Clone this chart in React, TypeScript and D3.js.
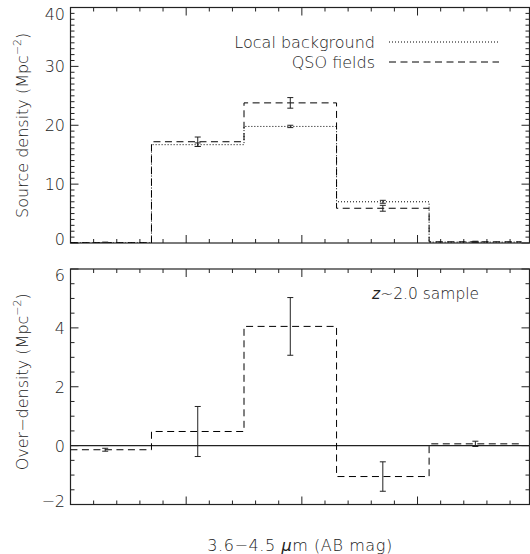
import React from 'react';
import * as d3 from 'd3';

// colour bins (3.6-4.5 micron, AB mag), width 0.4
const binCenters = [-0.35, 0.05, 0.45, 0.85, 1.25];
const binWidth = 0.4;

// source density, Mpc^-2
const localDensity = [0.0, 16.7, 19.8, 7.0, 0.15];
const localErr = [0.05, 0.3, 0.2, 0.25, 0.05];
const qsoDensity = [0.05, 17.2, 23.8, 5.9, 0.2];
const qsoErr = [0.1, 0.8, 0.9, 0.5, 0.1];

// over-density, Mpc^-2
const overDensity = [-0.14, 0.48, 4.05, -1.05, 0.06];
const overErr = [0.05, 0.85, 0.98, 0.5, 0.09];

const topTicks = [0, 10, 20, 30, 40];
const bottomTicks = [-2, 0, 2, 4, 6];

const W = 530;
const H = 554;
const left = 70.5;
const right = 529.5;
const font = '"DejaVu Sans", sans-serif';
const fw = 200;
const ink = '#222';

const x = d3.scaleLinear().domain([-0.5, 1.484]).range([left, right]);
const yTop = d3.scaleLinear().domain([0, 40]).range([243, 7.5]);
const yBot = d3.scaleLinear().domain([-2, 6]).range([504.5, 269]);

const xMajor = d3.range(-0.5, 1.49, 0.5);
const xMinor = d3.range(-0.5, 1.49, 0.1);

const stepPath = (vals, y) =>
    d3.line()(vals.flatMap((v, i) => [
        [x(binCenters[i] - binWidth / 2), y(v)],
        [x(binCenters[i] + binWidth / 2), y(v)]
    ]));

const Frame = ({ y, ticks, minorStep, id }) => {
    const [d0, d1] = y.domain();
    const top = y.range()[1];
    const bottom = y.range()[0];
    const yMinor = d3.range(d0, d1 + 1e-6, minorStep);
    return (
        <g stroke={ink} fill="none">
            <defs>
                <clipPath id={id}>
                    <rect x={left} y={top} width={right - left} height={bottom - top} />
                </clipPath>
            </defs>
            <rect x={left} y={top} width={right - left} height={bottom - top} strokeWidth={1.2} />
            {xMinor.map(v => {
                const big = xMajor.some(m => Math.abs(m - v) < 1e-6);
                const len = big ? 8 : 4;
                return (
                    <g key={'x' + v}>
                        <line x1={x(v)} x2={x(v)} y1={bottom} y2={bottom - len} />
                        <line x1={x(v)} x2={x(v)} y1={top} y2={top + len} />
                    </g>
                );
            })}
            {yMinor.map(v => {
                const big = ticks.includes(Math.round(v * 1000) / 1000);
                const len = big ? 8 : 4;
                return (
                    <g key={'y' + v}>
                        <line x1={left} x2={left + len} y1={y(v)} y2={y(v)} />
                        <line x1={right} x2={right - len} y1={y(v)} y2={y(v)} />
                    </g>
                );
            })}
            <g fill={ink} stroke="none" fontFamily={font} fontWeight={fw} fontSize={16} textAnchor="end">
                {ticks.map((t, i) => {
                    // end labels are pulled inside the panel, like the original
                    const nudge = i === 0 ? -4 : i === ticks.length - 1 ? 6 : 0;
                    return (
                        <text key={t} x={65} y={y(t) + 6 + nudge}>{t < 0 ? '\u2212' + Math.abs(t) : t}</text>
                    );
                })}
            </g>
        </g>
    );
};

const ErrorBars = ({ vals, errs, y }) => (
    <g stroke={ink} strokeWidth={1}>
        {vals.map((v, i) => {
            const cx = x(binCenters[i]);
            return (
                <g key={i}>
                    <line x1={cx} x2={cx} y1={y(v - errs[i])} y2={y(v + errs[i])} />
                    <line x1={cx - 3} x2={cx + 3} y1={y(v - errs[i])} y2={y(v - errs[i])} />
                    <line x1={cx - 3} x2={cx + 3} y1={y(v + errs[i])} y2={y(v + errs[i])} />
                </g>
            );
        })}
    </g>
);

const App = () => {
    const dash = '7,4.5';
    const dot = '1,2';
    return (
        <svg width={W} height={H} style={{ position: 'absolute', left: 0, top: 0, background: '#fff' }}>
            {/* top panel */}
            <Frame y={yTop} ticks={topTicks} minorStep={1} id="clipTop" />
            <g clipPath="url(#clipTop)" fill="none" stroke="#000" strokeWidth={1}>
                <path d={stepPath(localDensity, yTop)} strokeDasharray={dot} />
                <path d={stepPath(qsoDensity, yTop)} strokeDasharray={dash} />
                <ErrorBars vals={localDensity} errs={localErr} y={yTop} />
                <ErrorBars vals={qsoDensity} errs={qsoErr} y={yTop} />
            </g>
            <g fontFamily={font} fontWeight={fw} fontSize={16} fill={ink}>
                <text x={375} y={48} textAnchor="end">Local background</text>
                <text x={375} y={68} textAnchor="end">QSO fields</text>
            </g>
            <line x1={389} x2={499} y1={42} y2={42} stroke="#000" strokeDasharray={dot} />
            <line x1={389} x2={499} y1={62} y2={62} stroke="#000" strokeDasharray={dash} />
            <text transform={`translate(28,${(yTop.range()[0] + yTop.range()[1]) / 2}) rotate(-90)`}
                textAnchor="middle" fontFamily={font} fontWeight={fw} fontSize={16} fill={ink}>
                Source density (Mpc<tspan dy={-7} fontSize={11}>{'\u22122'}</tspan><tspan dy={7}>)</tspan>
            </text>

            {/* bottom panel */}
            <Frame y={yBot} ticks={bottomTicks} minorStep={0.5} id="clipBot" />
            <g clipPath="url(#clipBot)" fill="none" stroke="#000" strokeWidth={1}>
                <line x1={left} x2={right} y1={yBot(0)} y2={yBot(0)} stroke={ink} strokeWidth={1.2} />
                <path d={stepPath(overDensity, yBot)} strokeDasharray={dash} />
                <ErrorBars vals={overDensity} errs={overErr} y={yBot} />
            </g>
            <text x={372} y={299} fontFamily={font} fontWeight={fw} fontSize={15.5} fill={ink}>
                <tspan fontStyle="italic">z</tspan>~2.0 sample
            </text>
            <text transform={`translate(28,${(yBot.range()[0] + yBot.range()[1]) / 2 - 5}) rotate(-90)`}
                textAnchor="middle" fontFamily={font} fontWeight={fw} fontSize={16} fill={ink}>
                Over{'\u2212'}density (Mpc<tspan dy={-7} fontSize={11}>{'\u22122'}</tspan><tspan dy={7}>)</tspan>
            </text>

            <text x={(left + right) / 2} y={551} textAnchor="middle" fontFamily={font} fontWeight={fw}
                fontSize={16} letterSpacing={0.6} fill={ink}>
                3.6{'\u2212'}4.5 <tspan fontStyle="italic">{'\u03bc'}</tspan>m (AB mag)
            </text>
        </svg>
    );
};

export default App;
